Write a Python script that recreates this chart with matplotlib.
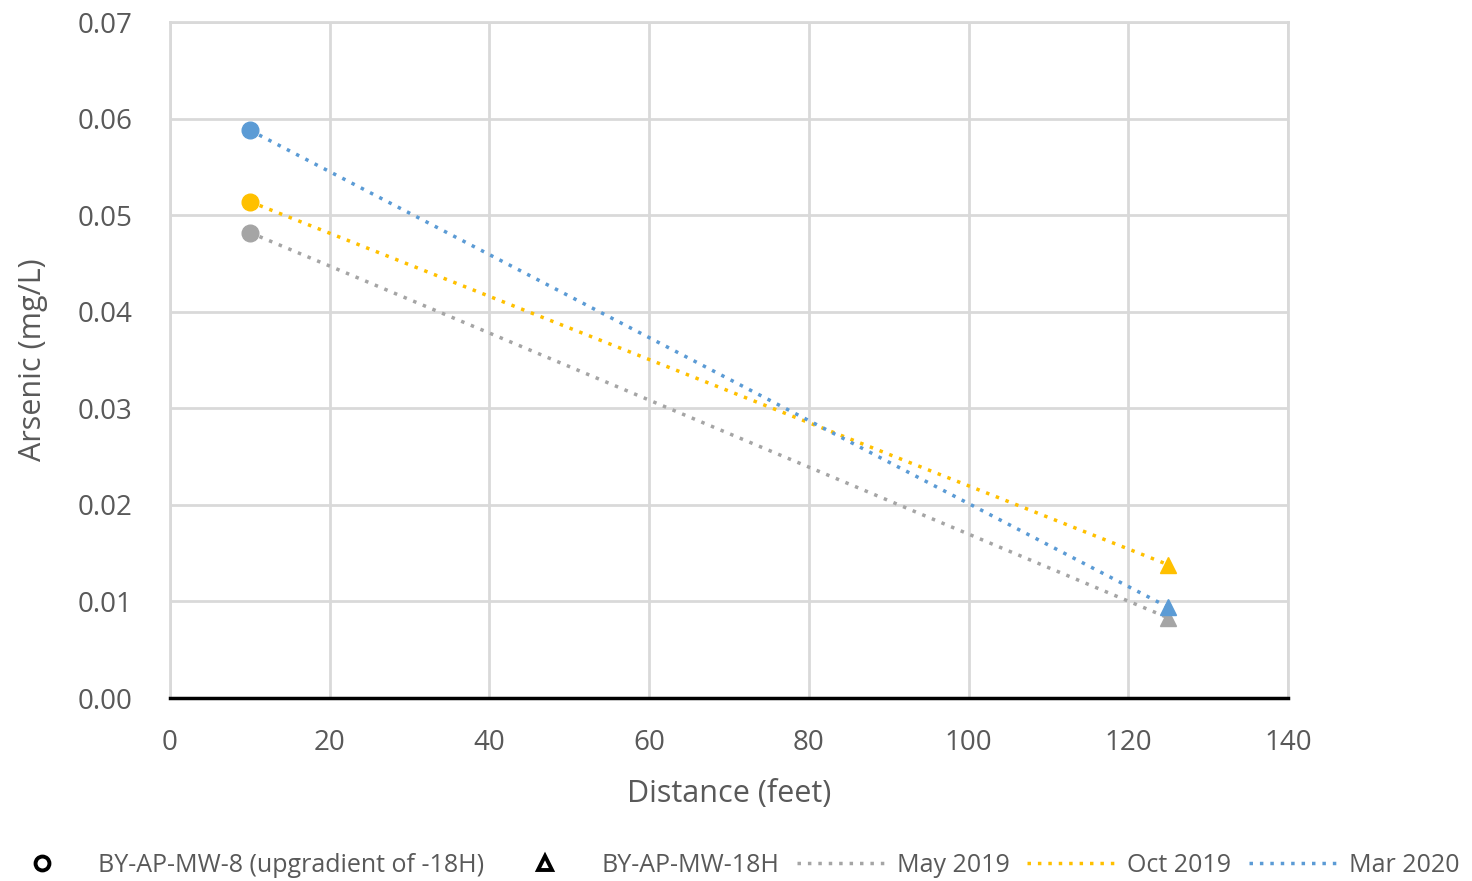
import matplotlib.pyplot as plt
from matplotlib.lines import Line2D

# Data
distance = [10, 125]
series = ['May 2019', 'Oct 2019', 'Mar 2020']
colors = ['#a5a5a5', '#ffc000', '#5b9bd5']
may_2019 = [0.0482, 0.0083]
oct_2019 = [0.0514, 0.0138]
mar_2020 = [0.0588, 0.0094]
values = [may_2019, oct_2019, mar_2020]
well_labels = ['BY-AP-MW-8 (upgradient of -18H)', 'BY-AP-MW-18H']

plt.rcParams['font.family'] = ['Open Sans', 'DejaVu Sans']
txt = '#595959'

fig = plt.figure(figsize=(14.72, 8.81), dpi=100)
ax = fig.add_axes([0.1155, 0.2077, 0.7595, 0.7673])

for name, col, vals in zip(series, colors, values):
    ax.plot(distance, vals, linestyle=(0, (1, 2)), color=col, linewidth=2.5)
    ax.plot(distance[0], vals[0], 'o', color=col, markersize=12)
    ax.plot(distance[1], vals[1], '^', color=col, markersize=12)

ax.set_xlim(0, 140)
ax.set_ylim(0, 0.07)
ax.set_xticks(range(0, 141, 20))
ax.set_yticks([i / 100 for i in range(8)])
ax.set_yticklabels([f'{i / 100:.2f}' for i in range(8)])
ax.grid(True, color='#d9d9d9', linewidth=2)
ax.set_axisbelow(True)
for s in ['top', 'right', 'left']:
    ax.spines[s].set_color('#d9d9d9')
    ax.spines[s].set_linewidth(2)
ax.spines['bottom'].set_color('black')
ax.spines['bottom'].set_linewidth(2.5)
ax.tick_params(length=0, labelsize=20, labelcolor=txt)
ax.tick_params(axis='x', pad=22)
ax.tick_params(axis='y', pad=27)
ax.set_xlabel('Distance (feet)', fontsize=22, color=txt, labelpad=16)
ax.set_ylabel('Arsenic (mg/L)', fontsize=22, color=txt, labelpad=21)

handles = [
    Line2D([], [], linestyle='none', marker='o', markerfacecolor='white',
           markeredgecolor='black', markeredgewidth=2.8, markersize=10),
    Line2D([], [], linestyle='none', marker='^', markerfacecolor='white',
           markeredgecolor='black', markeredgewidth=2.8, markersize=10),
]
for col in colors:
    handles.append(Line2D([], [], linestyle=(0, (1, 2)), color=col, linewidth=2.5))
fig.legend(handles, well_labels + series, loc='lower center', ncol=5,
           frameon=False, fontsize=18, labelcolor=txt, handlelength=3.5,
           handletextpad=0.5, columnspacing=0.7, bbox_to_anchor=(0.495, -0.022))

fig.savefig('out.png', dpi=100)
